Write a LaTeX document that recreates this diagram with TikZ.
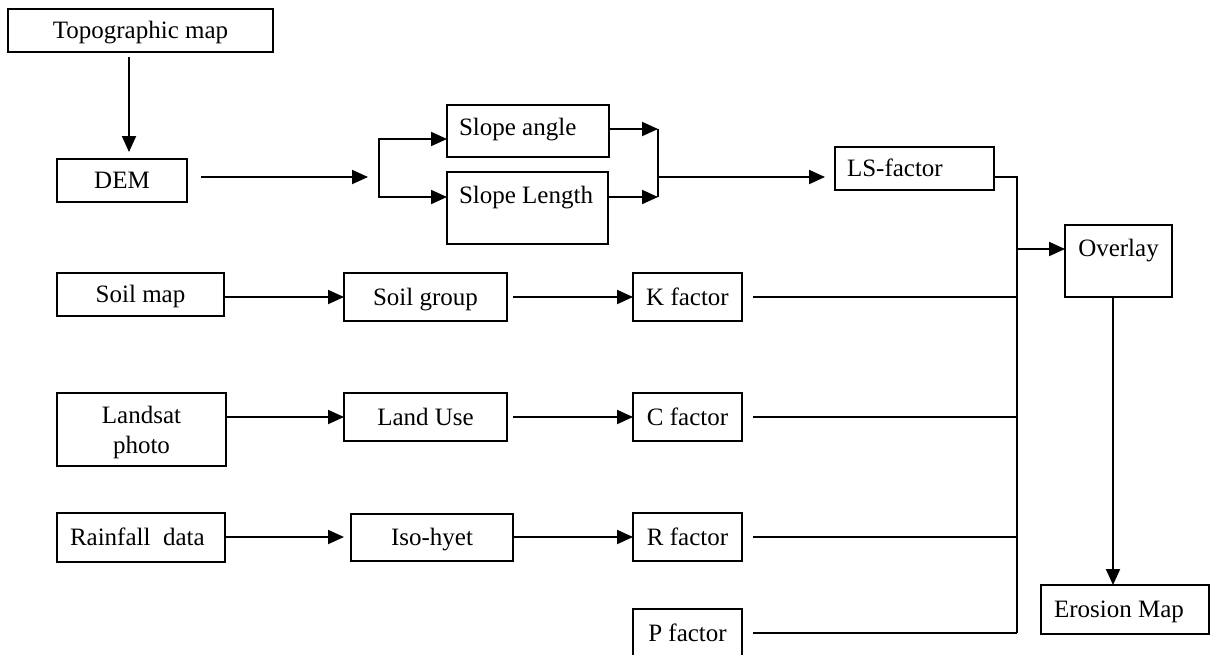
\documentclass[tikz,border=0pt]{standalone}
\usepackage{fontspec}
\setmainfont{Liberation Serif}
\usetikzlibrary{arrows.meta}

\tikzset{
  frame/.style={draw, rectangle, inner sep=0pt, outer sep=0pt, align=center},
  box/.style={frame, text height=16.5pt, text depth=0pt},
  arr/.style={-{Triangle[length=16pt,width=14pt]}},
}
% left-set label of a fixed width
\newcommand{\leftset}[2]{\makebox[#1][l]{#2}}

\begin{document}
\begin{tikzpicture}[x=1pt, y=-1pt, line width=2pt,
  font=\fontsize{25}{29.5}\selectfont]
\useasboundingbox (0,0) rectangle (1217,654);

% source and intermediate boxes
\node[box, minimum width=265pt, minimum height=43pt] (topo) at (140.5,30.5) {Topographic map};
\node[box, minimum width=130pt, minimum height=43pt] (dem) at (122,180.5) {DEM};

\node[box, minimum width=162pt, minimum height=52pt,
      text height=30pt, text depth=22pt] (sangle) at (528,131) {\leftset{138pt}{Slope angle}};
\node[box, minimum width=161pt, minimum height=72pt,
      text height=31pt, text depth=41pt] (slength) at (527.5,208) {\leftset{137pt}{Slope Length}};
\node[box, minimum width=159pt, minimum height=43pt] (ls) at (914.5,168.5) {\leftset{135pt}{LS-factor}};

\node[box, minimum width=107pt, minimum height=72pt,
      text height=31pt, text depth=41pt] (overlay) at (1118.5,261) {Overlay};
\node[box, minimum width=168pt, minimum height=49pt] (erosion) at (1125,609.5) {\leftset{142pt}{Erosion Map}};

\node[box, minimum width=167pt, minimum height=43pt] (soilmap) at (140.5,294.5) {Soil map};
\node[box, minimum width=163pt, minimum height=48pt] (soilgroup) at (425.5,297) {Soil group};
\node[box, minimum width=109pt, minimum height=48pt] (kf) at (687.5,297) {K factor};

\node[frame, minimum width=169pt, minimum height=73pt,
      text height=60pt, text depth=13pt] (landsat) at (141.5,429.5) {Landsat\\photo};
\node[box, minimum width=163pt, minimum height=48pt] (landuse) at (425.5,417) {Land Use};
\node[box, minimum width=109pt, minimum height=48pt] (cf) at (687.5,417) {C factor};

\node[box, minimum width=168pt, minimum height=49pt] (rain) at (141,537) {\leftset{142pt}{Rainfall\ \ data}};
\node[box, minimum width=162pt, minimum height=47pt] (iso) at (432,537) {Iso-hyet};
\node[box, minimum width=109pt, minimum height=48pt] (rf) at (687.5,537) {R factor};

\node[box, minimum width=109pt, minimum height=48pt] (pf) at (687.5,633) {P factor};

% junction points
\coordinate (fork) at (379,177);
\coordinate (ja) at (658,129);
\coordinate (jb) at (658,197);
\coordinate (join) at (658,177);
\coordinate (tap) at (1017,249);
\coordinate (busbot) at (1017,633);

% topographic map to DEM, DEM to slope boxes
\draw[arr] ([xshift=-11.5pt,yshift=-5pt]topo.south) -- ([xshift=7pt,yshift=7pt]dem.north);
\draw[arr] ([xshift=14pt,yshift=3.5pt]dem.east) -- ([xshift=-11pt]fork);
\draw[arr] (fork) |- ([yshift=-8pt]sangle.west);
\draw[arr] (fork) |- ([yshift=11pt]slength.west);

% slope boxes merge into LS-factor
\draw[arr] ([yshift=2pt]sangle.east) -- (ja);
\draw[arr] ([yshift=11pt]slength.east) -- (jb);
\draw (ja) -- (jb);
\draw[arr, shorten >=10pt] (join) -- (join -| ls.west);

% collecting bus to Overlay
\draw ([yshift=-8.5pt]ls.east) -| (busbot);
\draw[arr] (tap) -- (tap -| overlay.west);
\draw ([xshift=11pt]kf.east) -- (kf.east -| busbot);
\draw ([xshift=11pt]cf.east) -- (cf.east -| busbot);
\draw ([xshift=11pt]rf.east) -- (rf.east -| busbot);
\draw ([xshift=11pt]pf.east) -- (pf.east -| busbot);
\draw[arr] ([xshift=-5.5pt]overlay.south) -- ([xshift=-12pt]erosion.north);

% factor chains
\draw[arr] (soilmap.east |- soilgroup.west) -- (soilgroup.west);
\draw[arr] ([xshift=6pt]soilgroup.east) -- (kf.west);
\draw[arr] (landsat.east |- landuse.west) -- (landuse.west);
\draw[arr] ([xshift=6pt]landuse.east) -- (cf.west);
\draw[arr, shorten >=7pt] (rain.east) -- (iso.west);
\draw[arr] (iso.east) -- (rf.west);
\end{tikzpicture}
\end{document}
